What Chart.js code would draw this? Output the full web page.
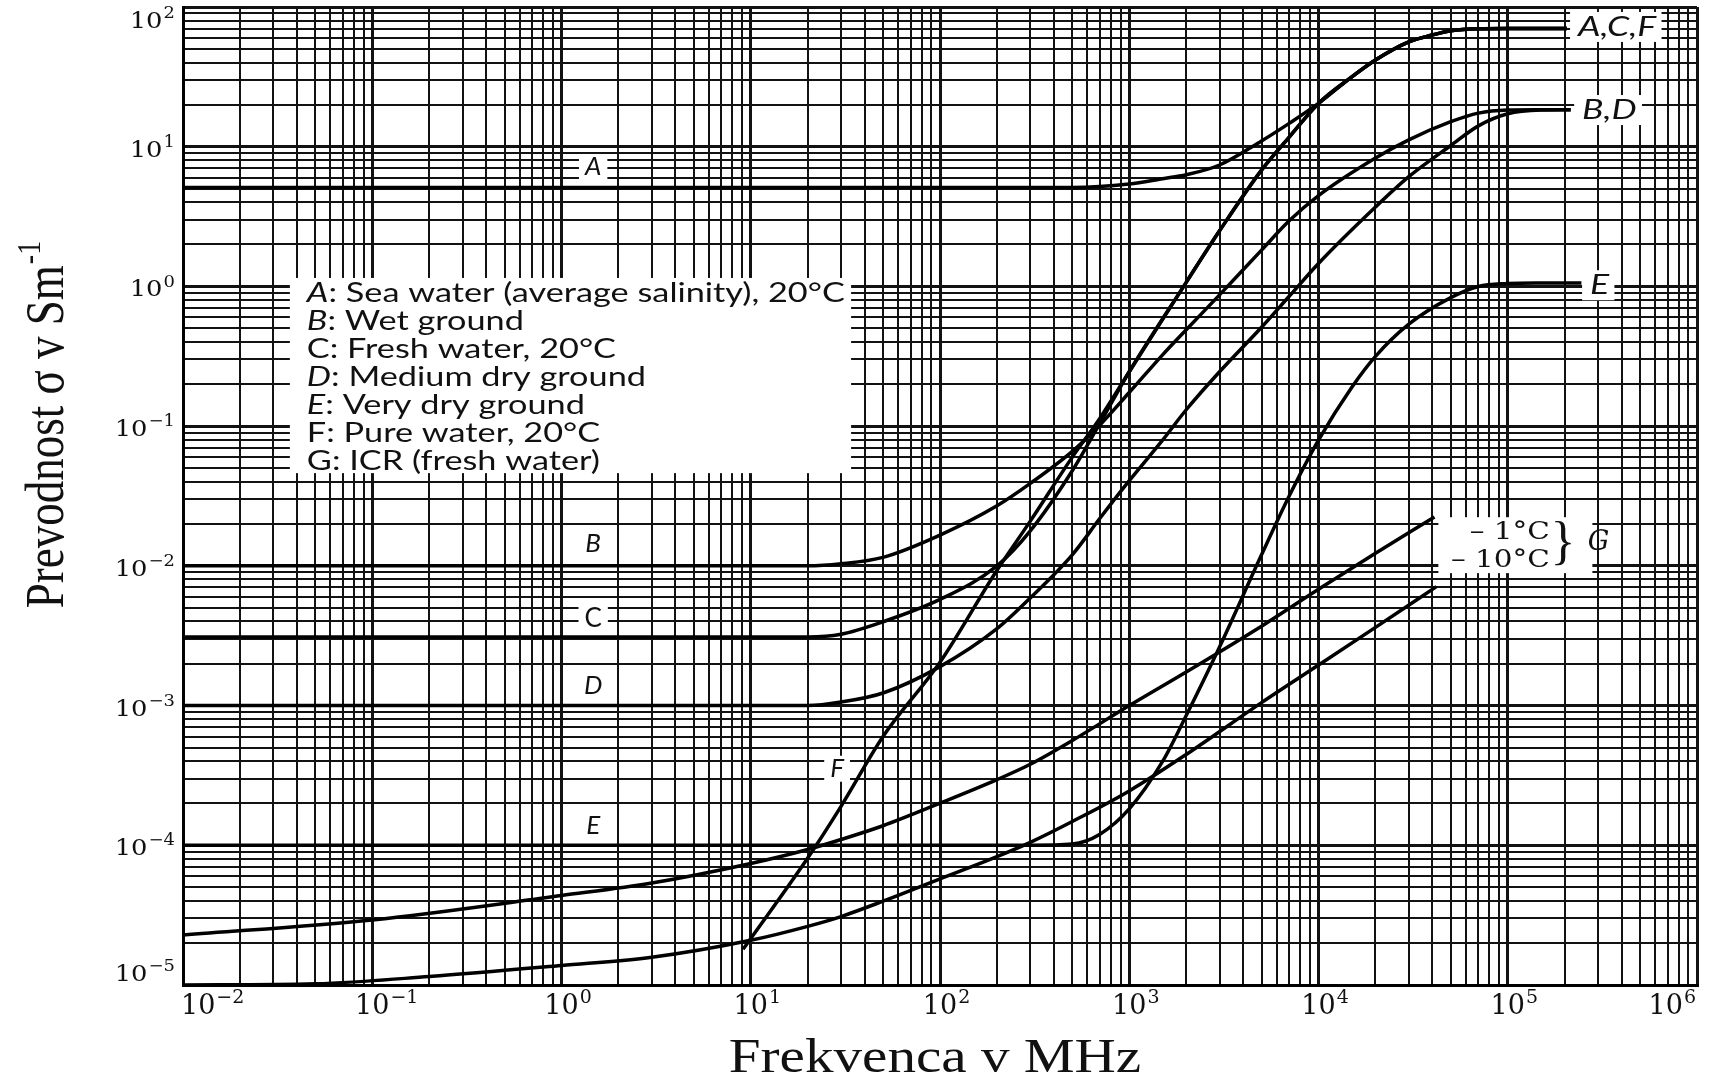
<!DOCTYPE html>
<html>
<head>
<meta charset="utf-8">
<script src="https://cdn.jsdelivr.net/npm/chart.js@4.4.0/dist/chart.umd.min.js"></script>
<style>
  html, body { margin: 0; padding: 0; background: #fff; }
  #wrap { width: 1712px; height: 1084px; }
</style>
</head>
<body>
<div id="wrap"><canvas id="chart" width="1712" height="1084"></canvas></div>
<script>
// frequency in MHz, conductivity in S/m
const freqA  = [0.01, 500, 1000, 1500, 2000, 3000, 5000, 7000, 10000, 15000, 20000, 30000, 40000, 50000, 70000, 100000, 205000];
const sigmaA = [5.1, 5.1, 5.4, 5.9, 6.3, 7.4, 11, 14.7, 20.4, 31.6, 41.7, 56.2, 63, 67.6, 70, 70.3, 70.3];

const freqB  = [0.01, 20, 30, 50, 100, 200, 300, 500, 700, 1000, 1500, 2000, 3000, 5000, 7000, 10000, 20000, 30000, 50000, 70000, 100000, 140000, 215000];
const sigmaB = [0.01, 0.01, 0.01035, 0.0115, 0.0166, 0.0269, 0.0389, 0.066, 0.102, 0.174, 0.324, 0.49, 0.87, 1.82, 2.95, 4.47, 8.3, 11.2, 15.1, 17.4, 18.3, 18.4, 18.4];

const freqC  = [0.01, 20, 30, 50, 100, 200, 300, 500, 700, 1000, 2000, 3000, 5000, 7000, 10000, 15000, 20000, 30000, 40000, 50000, 70000, 100000, 205000];
const sigmaC = [0.0031, 0.0031, 0.00324, 0.00398, 0.00575, 0.01, 0.0178, 0.0479, 0.105, 0.245, 1.07, 2.5, 6.8, 11.7, 20.4, 31.6, 41.7, 56.2, 63, 67.6, 70, 70.3, 70.3];

const freqD  = [0.01, 20, 30, 50, 100, 200, 300, 500, 700, 1000, 1500, 2000, 3000, 5000, 7000, 10000, 20000, 30000, 50000, 70000, 100000, 150000, 215000];
const sigmaD = [0.001, 0.001, 0.00106, 0.00123, 0.0019, 0.00355, 0.0059, 0.012, 0.0219, 0.0407, 0.0794, 0.131, 0.245, 0.51, 0.85, 1.46, 3.7, 6.1, 10.2, 14.1, 17.2, 18.3, 18.4];

const freqE  = [0.01, 300, 500, 700, 1000, 1500, 2000, 3000, 5000, 7000, 10000, 15000, 20000, 30000, 50000, 70000, 100000, 140000, 245000];
const sigmaE = [1e-4, 1e-4, 1.02e-4, 1.2e-4, 1.82e-4, 3.98e-4, 8.5e-4, 2.63e-3, 0.012, 0.0316, 0.0794, 0.19, 0.316, 0.537, 0.832, 1.0, 1.05, 1.06, 1.06];

const freqF  = [9.1, 10, 20, 30, 50, 100, 200, 300, 500, 700, 1000, 2000, 3000, 5000, 7000, 10000, 15000, 20000, 30000, 40000, 50000, 70000, 100000, 205000];
const sigmaF = [1.8e-5, 2.15e-5, 8.1e-5, 1.9e-4, 6.0e-4, 2.04e-3, 9.3e-3, 0.0209, 0.060, 0.114, 0.245, 1.07, 2.5, 6.8, 11.7, 20.4, 31.6, 41.7, 56.2, 63, 67.6, 70, 70.3, 70.3];

// G: ICR (fresh water), -1 degC and -10 degC
const freqG1  = [0.01, 0.1, 1, 3, 10, 20, 30, 50, 100, 200, 300, 500, 1000, 2000, 5000, 10000, 20000, 41000];
const sigmaG1 = [2.28e-5, 2.92e-5, 4.37e-5, 5.37e-5, 7.41e-5, 9.33e-5, 1.1e-4, 1.38e-4, 2.0e-4, 2.95e-4, 3.8e-4, 5.62e-4, 1.0e-3, 1.74e-3, 3.7e-3, 6.8e-3, 0.0123, 0.0224];

const freqG10  = [0.01, 0.05, 0.2, 1, 3, 10, 20, 30, 50, 100, 200, 300, 500, 1000, 2000, 5000, 10000, 20000, 42000];
const sigmaG10 = [1.0e-5, 1.02e-5, 1.15e-5, 1.38e-5, 1.58e-5, 2.09e-5, 2.63e-5, 3.09e-5, 3.98e-5, 5.75e-5, 8.3e-5, 1.05e-4, 1.48e-4, 2.45e-4, 4.47e-4, 1.05e-3, 1.95e-3, 3.63e-3, 7.1e-3];

// decade exponents for the tick labels
const xTickExp = [-2, -1, 0, 1, 2, 3, 4, 5, 6];
const yTickExp = [2, 1, 0, -1, -2, -3, -4, -5];

const legendKeys   = ['A', 'B', 'C', 'D', 'E', 'F', 'G'];
const legendItalic = [true, true, false, true, true, false, false];
const legendText   = ['Sea water (average salinity), 20°C', 'Wet ground', 'Fresh water, 20°C',
                      'Medium dry ground', 'Very dry ground', 'Pure water, 20°C', 'ICR (fresh water)'];

// curve labels, anchored in data space (MHz, S/m)
const leftLabels = [
  { t: 'A', f: 1.47, s: 7.16, it: true },
  { t: 'B', f: 1.47, s: 0.0144, it: true },
  { t: 'C', f: 1.47, s: 0.0042, it: false },
  { t: 'D', f: 1.47, s: 0.00139, it: true },
  { t: 'E', f: 1.47, s: 1.39e-4, it: true },
  { t: 'F', f: 28.6, s: 3.53e-4, it: true }
];
const endLabels = [
  { t: 'A,C,F', f: 2.35e5, s: 72 },
  { t: 'B,D', f: 2.47e5, s: 18.3 },
  { t: 'E', f: 2.72e5, s: 1.02 }
];

function logGrid(lo, hi) {
  const v = [];
  for (let d = lo; d < hi; d++) for (let m = 1; m < 10; m++) v.push(m * Math.pow(10, d));
  v.push(Math.pow(10, hi));
  return v;
}
function isDecade(v) {
  const l = Math.log10(v);
  return Math.abs(l - Math.round(l)) < 1e-9;
}
function series(fs, ss) {
  return {
    data: fs.map((f, i) => ({ x: f, y: ss[i] })),
    showLine: true, borderColor: '#000', borderWidth: 3.5,
    pointRadius: 0, fill: false, cubicInterpolationMode: 'monotone'
  };
}
function expStr(e) { return e < 0 ? '\u2212' + (-e) : String(e); }

const gridOpts = {
  color: '#121212',
  drawTicks: false,
  lineWidth: c => (c.tick && isDecade(c.tick.value)) ? 3 : 2
};

const paperPlugin = {
  id: 'paper',
  afterDatasetsDraw(chart) {
    const ctx = chart.ctx, xs = chart.scales.x, ys = chart.scales.y;
    const px = f => xs.getPixelForValue(f), py = s => ys.getPixelForValue(s);
    ctx.save();

    // legend box
    const bx0 = px(0.0367), bx1 = px(33.9), by0 = py(1.15), by1 = py(0.0461);
    ctx.fillStyle = '#fff';
    ctx.fillRect(bx0, by0, bx1 - bx0, by1 - by0);
    ctx.fillStyle = '#111';
    ctx.textBaseline = 'middle';
    ctx.textAlign = 'left';
    ctx.font = 'italic 27px Lato';
    let w0 = ctx.measureText('A').width;
    ctx.font = '27px Lato';
    w0 += ctx.measureText(': ' + legendText[0]).width;
    const sx = 538 / w0;
    legendKeys.forEach((k, i) => {
      ctx.save();
      ctx.translate(bx0 + 17, by0 + 15 + i * 28);
      ctx.scale(sx, 1);
      ctx.font = (legendItalic[i] ? 'italic ' : '') + '27px Lato';
      ctx.fillText(k, 0, 0);
      const wk = ctx.measureText(k).width;
      ctx.font = '27px Lato';
      ctx.fillText(': ' + legendText[i], wk, 0);
      ctx.restore();
    });

    // curve labels on the left
    leftLabels.forEach(l => {
      const x = px(l.f), y = py(l.s);
      ctx.font = (l.it ? 'italic ' : '') + '26px Lato';
      const w = ctx.measureText(l.t).width;
      ctx.fillStyle = '#fff';
      ctx.fillRect(x - w / 2 - 6, y - 13, w + 12, 26);
      ctx.fillStyle = '#111';
      ctx.textAlign = 'center';
      ctx.fillText(l.t, x, y);
    });

    // labels at the right end of the curves
    endLabels.forEach(l => {
      const x = px(l.f), y = py(l.s);
      ctx.font = 'italic 27px Lato';
      ctx.save();
      ctx.translate(x, y);
      ctx.scale(1.32, 1);
      const w = ctx.measureText(l.t).width;
      ctx.fillStyle = '#fff';
      ctx.fillRect(-6, -15, w + 10, 30);
      ctx.fillStyle = '#111';
      ctx.textAlign = 'left';
      ctx.fillText(l.t, 0, 0);
      ctx.restore();
    });

    // G group: -1 degC / -10 degC } G
    const gx0 = px(4.3e4), gx1 = px(2.8e5), gy0 = py(0.0223), gy1 = py(0.00887);
    ctx.fillStyle = '#fff';
    ctx.fillRect(gx0, gy0, gx1 - gx0, gy1 - gy0);
    ctx.fillStyle = '#111';
    ctx.font = '25px "DejaVu Serif"';
    ctx.textAlign = 'right';
    ctx.save(); ctx.translate(px(1.67e5), py(0.0172)); ctx.scale(1.18, 1);
    ctx.fillText('\u2013 1°C', 0, 0); ctx.restore();
    ctx.save(); ctx.translate(px(1.67e5), py(0.011)); ctx.scale(1.18, 1);
    ctx.fillText('\u2013 10°C', 0, 0); ctx.restore();
    ctx.textAlign = 'center';
    ctx.font = '52px "Liberation Serif"';
    ctx.fillText('}', px(1.96e5), py(0.0139) - 2);
    ctx.textAlign = 'left';
    ctx.font = 'italic 27px "DejaVu Serif"';
    ctx.fillText('G', px(2.65e5), py(0.0145));

    ctx.restore();
  },
  afterDraw(chart) {
    const ctx = chart.ctx, xs = chart.scales.x, ys = chart.scales.y, a = chart.chartArea;
    ctx.save();
    ctx.fillStyle = '#111';
    ctx.textBaseline = 'middle';
    ctx.textAlign = 'left';

    // x tick labels
    xTickExp.forEach((e, i) => {
      const gx = xs.getPixelForValue(Math.pow(10, e));
      ctx.font = '27px "DejaVu Serif"';
      const wb = ctx.measureText('10').width;
      ctx.font = '19px "DejaVu Serif"';
      const we = ctx.measureText(expStr(e)).width;
      let left = gx - wb / 2;
      if (i === 0) left = gx - 2;
      if (i === xTickExp.length - 1) left = gx - wb - we - 2;
      const cy = a.bottom + 22;
      ctx.font = '27px "DejaVu Serif"';
      ctx.fillText('10', left, cy);
      ctx.font = '19px "DejaVu Serif"';
      ctx.fillText(expStr(e), left + wb + 1, cy - 9);
    });

    // y tick labels
    yTickExp.forEach(e => {
      const gy = ys.getPixelForValue(Math.pow(10, e));
      const cy = Math.min(Math.max(gy + 4, a.top + 15), a.bottom - 10);
      const right = a.left - 8;
      ctx.save();
      ctx.translate(right, cy);
      ctx.scale(1.12, 1);
      ctx.font = '16px "DejaVu Serif"';
      const we = ctx.measureText(expStr(e)).width;
      ctx.textAlign = 'right';
      ctx.fillText(expStr(e), 0, -8);
      ctx.font = '23px "DejaVu Serif"';
      ctx.fillText('10', -we - 1, 0);
      ctx.restore();
    });

    // x axis title
    ctx.save();
    ctx.translate(935, 1059);
    ctx.scale(1.19, 1);
    ctx.font = '48px "Liberation Serif"';
    ctx.textAlign = 'center';
    ctx.fillText('Frekvenca v MHz', 0, 0);
    ctx.restore();

    // y axis title
    ctx.save();
    ctx.translate(49, 425);
    ctx.rotate(-Math.PI / 2);
    ctx.scale(1, 1.2);
    ctx.font = '45px "Liberation Serif"';
    const main = 'Prevodnost σ v Sm';
    const wm = ctx.measureText(main).width;
    ctx.font = '28px "Liberation Serif"';
    const ws = ctx.measureText('-1').width;
    const start = -(wm + ws) / 2;
    ctx.textAlign = 'left';
    ctx.font = '45px "Liberation Serif"';
    ctx.fillText(main, start, 0);
    ctx.font = '28px "Liberation Serif"';
    ctx.fillText('-1', start + wm + 1, -15);
    ctx.restore();

    ctx.restore();
  }
};

new Chart(document.getElementById('chart'), {
  type: 'scatter',
  data: {
    datasets: [
      series(freqA, sigmaA), series(freqB, sigmaB), series(freqC, sigmaC), series(freqD, sigmaD),
      series(freqE, sigmaE), series(freqF, sigmaF), series(freqG1, sigmaG1), series(freqG10, sigmaG10)
    ]
  },
  options: {
    responsive: false,
    animation: false,
    devicePixelRatio: 1,
    events: [],
    layout: { padding: { left: 183, right: 15, top: 7, bottom: 99 } },
    plugins: { legend: { display: false }, tooltip: { enabled: false } },
    scales: {
      x: {
        type: 'logarithmic', min: 0.01, max: 1e6,
        afterBuildTicks: s => { s.ticks = logGrid(-2, 6).map(v => ({ value: v })); },
        ticks: { display: false },
        grid: gridOpts,
        border: { display: true, color: '#000', width: 3 }
      },
      y: {
        type: 'logarithmic', min: 1e-5, max: 100,
        afterBuildTicks: s => { s.ticks = logGrid(-5, 2).map(v => ({ value: v })); },
        ticks: { display: false },
        grid: gridOpts,
        border: { display: true, color: '#000', width: 3 }
      }
    }
  },
  plugins: [paperPlugin]
});
</script>
</body>
</html>
